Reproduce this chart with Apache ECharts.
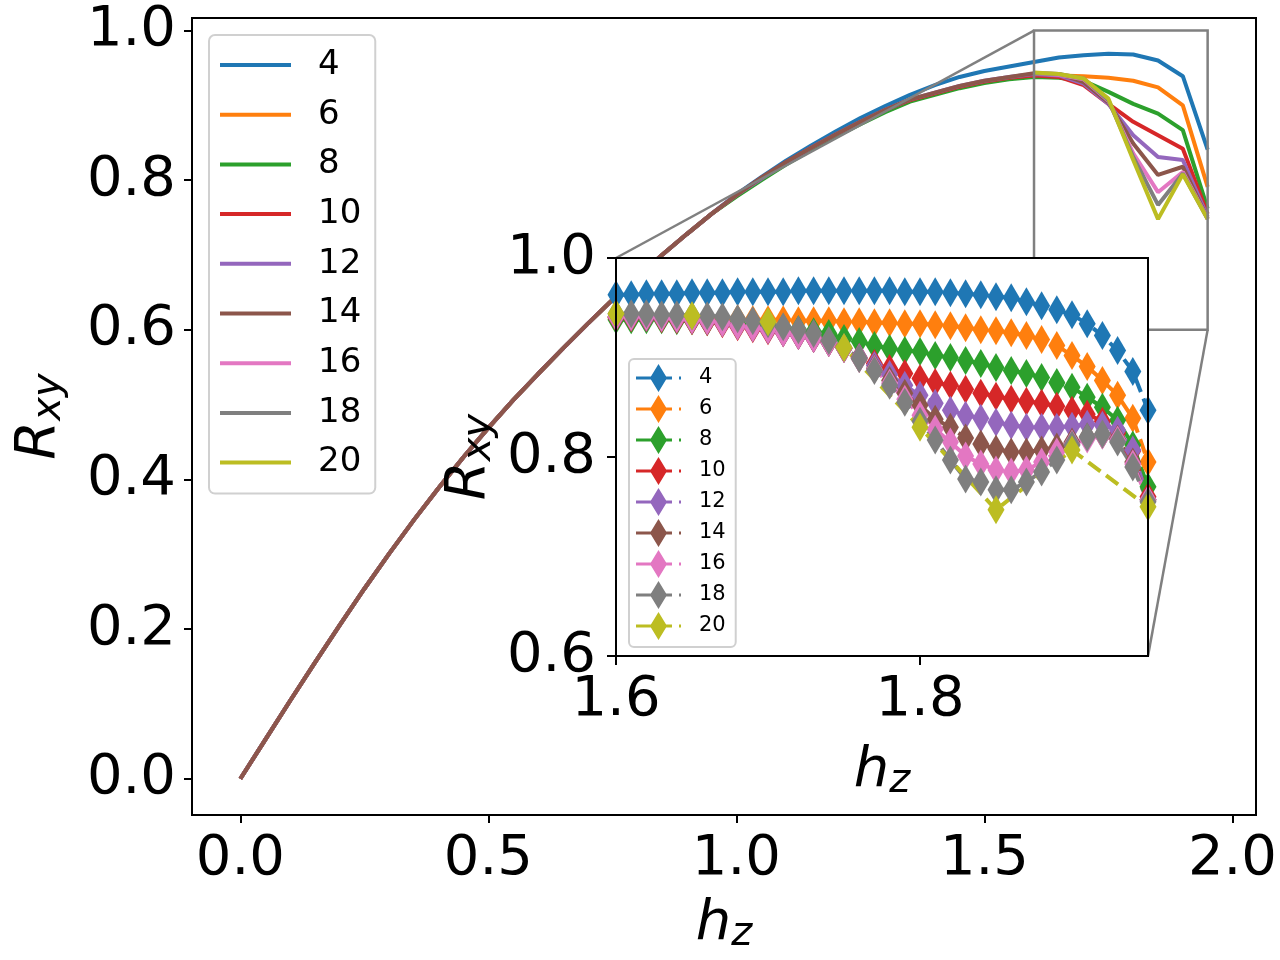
<!DOCTYPE html>
<html>
<head>
<meta charset="utf-8">
<script src="https://cdn.jsdelivr.net/npm/echarts@6/dist/echarts.min.js"></script>
<style>
  html, body { margin: 0; padding: 0; background: #fff; }
  #chart { width: 1280px; height: 960px; }
</style>
</head>
<body>
<div id="chart"></div>
<script>
// system sizes (legend labels)
const sizes = ["4", "6", "8", "10", "12", "14", "16", "18", "20"];
const colors = ["#1f77b4", "#ff7f0e", "#2ca02c", "#d62728", "#9467bd", "#8c564b", "#e377c2", "#7f7f7f", "#bcbd22"];

// main plot: h_z grid
const hMain = [0, 0.05, 0.1, 0.15, 0.2, 0.25, 0.3, 0.35, 0.4, 0.45, 0.5, 0.55, 0.6, 0.65, 0.7, 0.75, 0.8, 0.85, 0.9, 0.95,
  1.0, 1.05, 1.1, 1.15, 1.2, 1.25, 1.3, 1.35, 1.4, 1.45, 1.5, 1.55, 1.6, 1.65, 1.7, 1.75, 1.8, 1.85, 1.9, 1.95];
const hTail = [1.6, 1.65, 1.7, 1.75, 1.8, 1.85, 1.9, 1.95];

const main4 = [0, 0.052, 0.104, 0.155, 0.205, 0.254, 0.301, 0.346, 0.389, 0.430, 0.469, 0.506, 0.541, 0.575, 0.608, 0.640, 0.671, 0.700, 0.728, 0.755,
  0.781, 0.804, 0.826, 0.846, 0.865, 0.883, 0.899, 0.914, 0.927, 0.938, 0.946, 0.952, 0.958, 0.964, 0.967, 0.969, 0.968, 0.960, 0.939, 0.841];
const main6 = [0, 0.052, 0.104, 0.155, 0.205, 0.254, 0.301, 0.346, 0.389, 0.430, 0.469, 0.506, 0.541, 0.575, 0.608, 0.640, 0.671, 0.700, 0.728, 0.755,
  0.779, 0.801, 0.822, 0.841, 0.859, 0.876, 0.892, 0.906, 0.915, 0.924, 0.931, 0.936, 0.940, 0.940, 0.939, 0.937, 0.933, 0.924, 0.900, 0.791];
const main8 = [0, 0.052, 0.104, 0.155, 0.205, 0.254, 0.301, 0.346, 0.389, 0.430, 0.469, 0.506, 0.541, 0.575, 0.608, 0.640, 0.671, 0.700, 0.728, 0.755,
  0.778, 0.800, 0.821, 0.840, 0.858, 0.875, 0.891, 0.905, 0.914, 0.923, 0.930, 0.935, 0.938, 0.937, 0.933, 0.918, 0.902, 0.889, 0.867, 0.762];
const main10 = [0, 0.052, 0.104, 0.155, 0.205, 0.254, 0.301, 0.346, 0.389, 0.430, 0.469, 0.506, 0.541, 0.575, 0.608, 0.640, 0.671, 0.700, 0.728, 0.755,
  0.780, 0.803, 0.824, 0.843, 0.861, 0.878, 0.894, 0.907, 0.916, 0.925, 0.932, 0.937, 0.940, 0.938, 0.927, 0.902, 0.878, 0.860, 0.842, 0.755];
const main12 = [0, 0.052, 0.104, 0.155, 0.205, 0.254, 0.301, 0.346, 0.389, 0.430, 0.469, 0.506, 0.541, 0.575, 0.608, 0.640, 0.671, 0.700, 0.728, 0.755,
  0.780, 0.802, 0.823, 0.843, 0.861, 0.878, 0.894, 0.908, 0.917, 0.926, 0.933, 0.938, 0.942, 0.940, 0.929, 0.902, 0.860, 0.831, 0.827, 0.751];
const main14 = [0, 0.052, 0.104, 0.155, 0.205, 0.254, 0.301, 0.346, 0.389, 0.430, 0.469, 0.506, 0.541, 0.575, 0.608, 0.640, 0.671, 0.700, 0.728, 0.755,
  0.780, 0.803, 0.824, 0.843, 0.861, 0.878, 0.894, 0.908, 0.917, 0.926, 0.933, 0.938, 0.943, 0.942, 0.931, 0.904, 0.849, 0.807, 0.818, 0.749];
const main16 = [0.943, 0.941, 0.935, 0.906, 0.836, 0.784, 0.811, 0.749];
const main18 = [0.943, 0.942, 0.936, 0.907, 0.831, 0.767, 0.809, 0.748];
const main20 = [0.944, 0.942, 0.936, 0.909, 0.827, 0.748, 0.808, 0.748];

// inset: fine grid for L = 4..18, coarse for L = 20
const hInset = [1.60, 1.61, 1.62, 1.63, 1.64, 1.65, 1.66, 1.67, 1.68, 1.69, 1.70, 1.71, 1.72, 1.73, 1.74, 1.75, 1.76, 1.77,
  1.78, 1.79, 1.80, 1.81, 1.82, 1.83, 1.84, 1.85, 1.86, 1.87, 1.88, 1.89, 1.90, 1.91, 1.92, 1.93, 1.94, 1.95];
const inset4 = [0.963, 0.963, 0.964, 0.964, 0.964, 0.965, 0.965, 0.965, 0.966, 0.966, 0.966, 0.966,
  0.967, 0.967, 0.967, 0.967, 0.967, 0.967, 0.967, 0.966, 0.966, 0.966, 0.965, 0.964,
  0.963, 0.961, 0.960, 0.956, 0.952, 0.948, 0.943, 0.934, 0.922, 0.907, 0.886, 0.847];
const inset6 = [0.940, 0.940, 0.940, 0.940, 0.940, 0.939, 0.939, 0.939, 0.939, 0.938, 0.938, 0.938,
  0.937, 0.937, 0.937, 0.936, 0.936, 0.935, 0.935, 0.934, 0.934, 0.933, 0.932, 0.930,
  0.928, 0.927, 0.925, 0.922, 0.918, 0.912, 0.902, 0.891, 0.877, 0.862, 0.839, 0.795];
const inset8 = [0.938, 0.938, 0.938, 0.938, 0.937, 0.937, 0.936, 0.935, 0.934, 0.933, 0.932, 0.930,
  0.928, 0.926, 0.924, 0.919, 0.916, 0.912, 0.909, 0.907, 0.906, 0.902, 0.900, 0.897,
  0.894, 0.890, 0.887, 0.884, 0.880, 0.875, 0.870, 0.860, 0.850, 0.837, 0.812, 0.770];
const inset10 = [0.940, 0.940, 0.940, 0.939, 0.938, 0.937, 0.936, 0.934, 0.931, 0.929, 0.927, 0.925,
  0.922, 0.919, 0.915, 0.909, 0.900, 0.894, 0.889, 0.884, 0.879, 0.875, 0.872, 0.868,
  0.864, 0.861, 0.858, 0.856, 0.854, 0.851, 0.847, 0.843, 0.836, 0.824, 0.806, 0.760];
const inset12 = [0.941, 0.941, 0.940, 0.940, 0.939, 0.938, 0.937, 0.935, 0.932, 0.930, 0.928, 0.925,
  0.922, 0.919, 0.915, 0.909, 0.900, 0.892, 0.883, 0.872, 0.862, 0.854, 0.847, 0.842,
  0.839, 0.835, 0.832, 0.830, 0.830, 0.830, 0.831, 0.833, 0.832, 0.827, 0.807, 0.757];
const inset14 = [0.941, 0.941, 0.940, 0.940, 0.939, 0.938, 0.937, 0.935, 0.932, 0.930, 0.928, 0.925,
  0.922, 0.919, 0.915, 0.909, 0.899, 0.889, 0.877, 0.864, 0.852, 0.838, 0.830, 0.819,
  0.813, 0.808, 0.805, 0.805, 0.807, 0.810, 0.815, 0.820, 0.822, 0.818, 0.795, 0.757];
const inset16 = [0.941, 0.941, 0.941, 0.940, 0.939, 0.938, 0.937, 0.935, 0.932, 0.930, 0.928, 0.925,
  0.922, 0.919, 0.915, 0.909, 0.899, 0.888, 0.874, 0.858, 0.842, 0.828, 0.815, 0.801,
  0.793, 0.787, 0.785, 0.787, 0.795, 0.805, 0.813, 0.818, 0.822, 0.817, 0.793, 0.757];
const inset18 = [0.944, 0.944, 0.944, 0.943, 0.943, 0.942, 0.942, 0.941, 0.939, 0.937, 0.934, 0.931,
  0.928, 0.924, 0.917, 0.910, 0.899, 0.887, 0.872, 0.855, 0.836, 0.817, 0.797, 0.778,
  0.775, 0.767, 0.767, 0.775, 0.785, 0.797, 0.812, 0.820, 0.823, 0.815, 0.790, 0.755];
const inset20 = [0.944, 0.942, 0.936, 0.910, 0.830, 0.747, 0.807, 0.750];

// axes
const mainXTicks = [0, 0.5, 1.0, 1.5, 2.0];
const mainYTicks = [0, 0.2, 0.4, 0.6, 0.8, 1.0];
const zoomX = [1.6, 1.95];
const zoomY = [0.6, 1.0];
const insetXTicks = [1.6, 1.8];
const insetYTicks = [0.6, 0.8, 1.0];

const FONT = "DejaVu Sans";

const mainY = [main4, main6, main8, main10, main12, main14, main16, main18, main20];
const insetY = [inset4, inset6, inset8, inset10, inset12, inset14, inset16, inset18, inset20];

function pairs(xs, ys) {
  return ys.map((v, i) => [xs[i], v]);
}

const series = [];
sizes.forEach((name, i) => {
  const ys = mainY[i];
  series.push({
    name: name,
    type: "line",
    xAxisIndex: 0,
    yAxisIndex: 0,
    data: pairs(ys.length === hMain.length ? hMain : hTail, ys),
    symbol: "none",
    color: colors[i],
    lineStyle: { width: 4, color: colors[i] },
    z: 2,
  });
});
sizes.forEach((name, i) => {
  const ys = insetY[i];
  series.push({
    name: name,
    type: "line",
    xAxisIndex: 1,
    yAxisIndex: 1,
    data: pairs(ys.length === hInset.length ? hInset : hTail, ys),
    symbol: "diamond",
    symbolSize: [17, 29],
    showSymbol: true,
    color: colors[i],
    itemStyle: { color: colors[i] },
    lineStyle: { width: 4, type: [15, 7], color: colors[i] },
    z: 11,
  });
});

const tickFmt = (v) => Number(v).toFixed(1);

function axisName(base, sub) {
  return {
    text: "{i|" + base + "}{s|" + sub + "}",
    rich: {
      i: { fontSize: 56, fontStyle: "italic", fontFamily: FONT, color: "#000" },
      s: { fontSize: 40, fontStyle: "italic", fontFamily: FONT, color: "#000", padding: [22, 0, 0, 0] },
    },
  };
}
const xName = axisName("h", "z");
const yName = axisName("R", "xy");

const tickLine = { lineStyle: { color: "#000", width: 2 } };
const noLine = { show: false, onZero: false };

const option = {
  animation: false,
  backgroundColor: "#fff",
  textStyle: { fontFamily: FONT },
  grid: [
    { left: 192, top: 18, right: 24, bottom: 145, show: true, borderColor: "#000", borderWidth: 2, backgroundColor: "transparent", z: 0 },
    { left: 616, top: 258, width: 532, height: 398, show: true, borderWidth: 0, backgroundColor: "#fff", z: 10 },
  ],
  xAxis: [
    {
      type: "value", gridIndex: 0, min: -0.0975, max: 2.0475,
      axisLine: noLine,
      splitLine: { show: false },
      axisTick: { show: true, inside: false, length: 8, customValues: mainXTicks, ...tickLine },
      axisLabel: { customValues: mainXTicks, formatter: tickFmt, fontSize: 56, color: "#000", fontFamily: FONT, margin: 16 },
      name: xName.text, nameLocation: "middle", nameGap: 78,
      nameTextStyle: { rich: xName.rich },
    },
    {
      type: "value", gridIndex: 1, min: zoomX[0], max: zoomX[1], z: 12,
      axisLine: noLine,
      splitLine: { show: false },
      axisTick: { show: true, inside: false, length: 9, customValues: insetXTicks, ...tickLine },
      axisLabel: { customValues: insetXTicks, formatter: tickFmt, fontSize: 56, color: "#000", fontFamily: FONT, margin: 16 },
      name: xName.text, nameLocation: "middle", nameGap: 84,
      nameTextStyle: { rich: xName.rich },
    },
  ],
  yAxis: [
    {
      type: "value", gridIndex: 0, min: -0.0484, max: 1.0168,
      axisLine: noLine,
      splitLine: { show: false },
      axisTick: { show: true, inside: false, length: 8, customValues: mainYTicks, ...tickLine },
      axisLabel: { customValues: mainYTicks, formatter: tickFmt, fontSize: 56, color: "#000", fontFamily: FONT, margin: 16 },
      name: yName.text, nameLocation: "middle", nameGap: 122, nameRotate: 90,
      nameTextStyle: { rich: yName.rich },
    },
    {
      type: "value", gridIndex: 1, min: zoomY[0], max: zoomY[1], z: 12,
      axisLine: noLine,
      splitLine: { show: false },
      axisTick: { show: true, inside: false, length: 9, customValues: insetYTicks, ...tickLine },
      axisLabel: { customValues: insetYTicks, formatter: tickFmt, fontSize: 56, color: "#000", fontFamily: FONT, margin: 20 },
      name: yName.text, nameLocation: "middle", nameGap: 116, nameRotate: 90,
      nameTextStyle: { rich: yName.rich },
    },
  ],
  legend: [
    {
      data: sizes,
      orient: "vertical",
      left: 209, top: 35,
      icon: "rect",
      itemWidth: 71, itemHeight: 4, itemGap: 15.7,
      padding: [13, 14, 14, 11],
      backgroundColor: "#fff",
      borderColor: "#d0d0d0", borderWidth: 2, borderRadius: 6,
      textStyle: { fontSize: 34, lineHeight: 34, color: "#000", fontFamily: FONT, padding: [0, 0, 0, 22] },
      selectedMode: false,
      z: 4,
    },
    {
      data: sizes.map((s) => ({
        name: s,
        icon: "path://M0,12.5H36V15.5H0Z M43,12.5H45V15.5H43Z M22.5,0L31,14L22.5,28L14,14Z",
      })),
      orient: "vertical",
      left: 629, top: 359,
      itemWidth: 45, itemHeight: 28, itemGap: 3,
      padding: [5, 10, 7, 7],
      backgroundColor: "#fff",
      borderColor: "#d0d0d0", borderWidth: 2, borderRadius: 5,
      textStyle: { fontSize: 21, lineHeight: 28, color: "#000", fontFamily: FONT, padding: [0, 0, 0, 13] },
      selectedMode: false,
      z: 20,
    },
  ],
  series: series,
};

const chart = echarts.init(document.getElementById("chart"));
chart.setOption(option);

// zoom indicator: rectangle on the main axes, connectors, inset frame
const rA = chart.convertToPixel({ gridIndex: 0 }, [zoomX[0], zoomY[1]]);
const rB = chart.convertToPixel({ gridIndex: 0 }, [zoomX[1], zoomY[0]]);
const iA = chart.convertToPixel({ gridIndex: 1 }, [zoomX[0], zoomY[1]]);
const iB = chart.convertToPixel({ gridIndex: 1 }, [zoomX[1], zoomY[0]]);
const grayLine = { stroke: "#808080", lineWidth: 2.5, fill: null };

chart.setOption({
  graphic: [
    { type: "rect", z: 5, shape: { x: rA[0], y: rA[1], width: rB[0] - rA[0], height: rB[1] - rA[1] }, style: grayLine, silent: true },
    { type: "line", z: 5, shape: { x1: rA[0], y1: rA[1], x2: iA[0], y2: iA[1] }, style: grayLine, silent: true },
    { type: "line", z: 5, shape: { x1: rB[0], y1: rB[1], x2: iB[0], y2: iB[1] }, style: grayLine, silent: true },
    { type: "rect", z: 15, shape: { x: iA[0], y: iA[1], width: iB[0] - iA[0], height: iB[1] - iA[1] }, style: { stroke: "#000", lineWidth: 2, fill: null }, silent: true },
  ],
});
</script>
</body>
</html>
